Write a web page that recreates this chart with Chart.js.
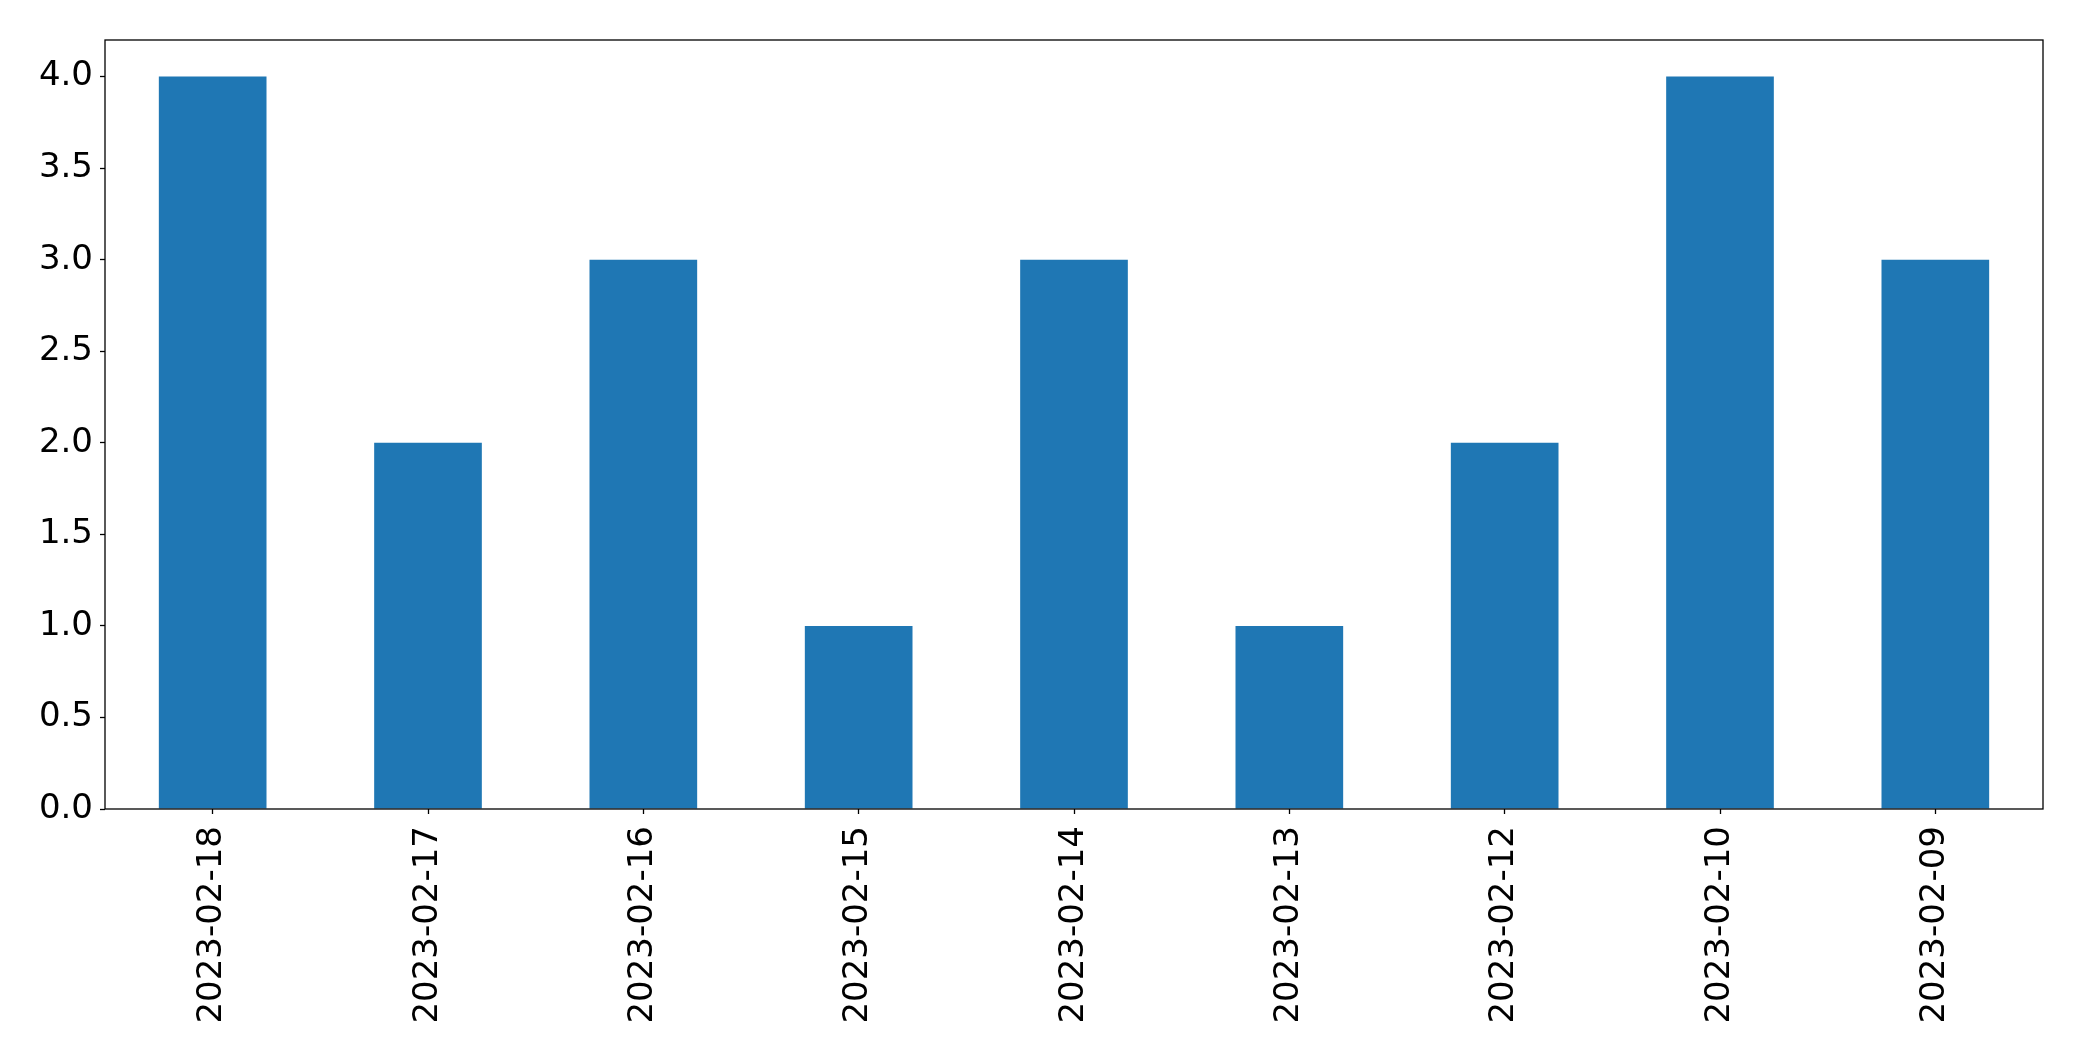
<!DOCTYPE html>
<html>
<head>
<meta charset="utf-8">
<script src="https://cdn.jsdelivr.net/npm/chart.js@4"></script>
<style>
  html, body { margin: 0; padding: 0; background: #fff; }
  #wrap { width: 2082px; height: 1061px; }
</style>
</head>
<body>
<div id="wrap"><canvas id="bar-dates"></canvas></div>
<script>
var dates = ['2023-02-18', '2023-02-17', '2023-02-16', '2023-02-15', '2023-02-14',
             '2023-02-13', '2023-02-12', '2023-02-10', '2023-02-09'];
var counts = [4, 2, 3, 1, 3, 1, 2, 4, 3];
var yTicks = [0, 0.5, 1, 1.5, 2, 2.5, 3, 3.5, 4];

// black frame round the plot, like matplotlib spines
var frame = {
	id: 'frame',
	afterDraw: function(chart) {
		var a = chart.chartArea, c = chart.ctx;
		c.save();
		c.strokeStyle = '#000';
		c.lineWidth = 1.3;
		c.strokeRect(a.left, a.top, a.right - a.left, a.bottom - a.top);
		c.restore();
	}
};

Chart.defaults.font.family = 'DejaVu Sans';
Chart.defaults.font.size = 34;
Chart.defaults.color = '#000';

var ctx = document.getElementById('bar-dates');
var barGraph = new Chart(ctx, {
	type: 'bar',
	data: {
		labels: dates,
		datasets: [{
			data: counts,
			backgroundColor: '#1f77b4',
			categoryPercentage: 1,
			barPercentage: 0.5
		}]
	},
	options: {
		responsive: true,
		maintainAspectRatio: false,
		animation: false,
		layout: { padding: { top: 40, right: 39, left: 0, bottom: 0 } },
		plugins: { legend: { display: false }, tooltip: { enabled: false } },
		scales: {
			x: {
				offset: true,
				grid: { offset: false, drawOnChartArea: false, tickLength: 5, tickColor: '#000', tickWidth: 1.3 },
				border: { display: false },
				ticks: { minRotation: 90, maxRotation: 90, padding: 12, autoSkip: false },
				afterFit: function(s) { s.height = 252; }
			},
			y: {
				min: 0,
				max: 4.2,
				grid: { drawOnChartArea: false, tickLength: 5, tickColor: '#000', tickWidth: 1.3 },
				border: { display: false },
				afterBuildTicks: function(s) {
					s.ticks = yTicks.map(function(v) { return { value: v }; });
				},
				ticks: {
					padding: 7,
					callback: function(v) { return v.toFixed(1); }
				},
				afterFit: function(s) { s.width = 105; }
			}
		}
	},
	plugins: [frame]
});
</script>
</body>
</html>
